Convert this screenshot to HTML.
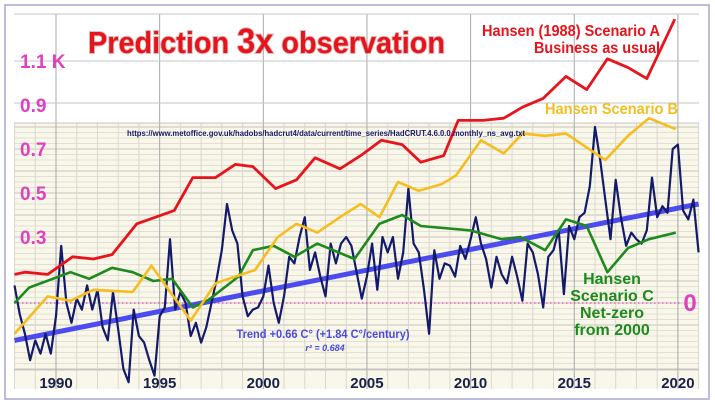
<!DOCTYPE html>
<html><head><meta charset="utf-8"><style>
html,body{margin:0;padding:0;background:#fff;}
svg{display:block;font-family:"Liberation Sans",sans-serif;}
</style></head><body>
<svg id="chart" width="715" height="404" viewBox="0 0 715 404">
<rect x="5" y="5" width="704" height="394" fill="#fff" stroke="#a9a6cf" stroke-width="1.5"/>
<rect x="14" y="123" width="685" height="266" fill="#f9f7ea"/>
<g id="grid"></g>
<g id="series"></g>
<g id="texts">
<text x="88" y="53" font-size="31" font-weight="bold" fill="#e8141c" textLength="357" lengthAdjust="spacingAndGlyphs" style="paint-order:stroke;stroke:rgba(120,0,0,0.25);stroke-width:2">Prediction <tspan font-size="35">3x</tspan> observation</text>
<text x="660" y="36" font-size="16" font-weight="bold" fill="#e8141c" text-anchor="end" textLength="178" lengthAdjust="spacingAndGlyphs">Hansen (1988) Scenario A</text>
<text x="660" y="53" font-size="16" font-weight="bold" fill="#e8141c" text-anchor="end" textLength="126" lengthAdjust="spacingAndGlyphs">Business as usual</text>
<text x="678" y="114" font-size="16" font-weight="bold" fill="#f2be22" text-anchor="end" textLength="133" lengthAdjust="spacingAndGlyphs">Hansen Scenario B</text>
<g font-size="16" font-weight="bold" fill="#1e8a1e" text-anchor="middle">
<text x="612" y="284">Hansen</text><text x="612" y="301">Scenario C</text><text x="612" y="318">Net-zero</text><text x="612" y="335">from 2000</text></g>
<text x="326" y="136" font-size="8.5" font-weight="bold" fill="#1a1a6a" text-anchor="middle" textLength="398" lengthAdjust="spacingAndGlyphs">https://www.metoffice.gov.uk/hadobs/hadcrut4/data/current/time_series/HadCRUT.4.6.0.0.monthly_ns_avg.txt</text>
<text x="323" y="338" font-size="12" font-weight="bold" fill="#4a4ae0" text-anchor="middle" textLength="173" lengthAdjust="spacingAndGlyphs">Trend +0.66 C° (+1.84 C°/century)</text>
<text x="325" y="351" font-size="9" font-weight="bold" font-style="italic" fill="#4a4ae0" text-anchor="middle">r² = 0.684</text>
<text x="690" y="311" font-size="24" font-weight="bold" fill="#e040c0" text-anchor="middle">0</text>
</g>
<g id="axes"></g>
</svg>
<script>
const obsStart = 1988.0;
const obsStep = 0.25;
const observed = [0.08,-0.05,-0.14,-0.26,-0.17,-0.23,-0.14,-0.23,-0.06,0.26,0.0,-0.09,0.02,-0.03,0.08,-0.03,0.06,-0.11,-0.17,0.05,-0.12,-0.30,-0.36,-0.03,-0.15,-0.18,-0.26,-0.33,-0.06,-0.02,0.29,-0.03,0.05,0.0,-0.15,-0.09,-0.18,-0.11,0.0,0.11,0.24,0.45,0.33,0.27,0.03,-0.06,-0.03,-0.02,0.03,0.17,0.0,-0.09,0.03,0.21,0.18,0.30,0.39,0.15,0.23,0.12,0.03,0.27,0.18,0.27,0.30,0.26,0.14,0.02,0.12,0.27,0.06,0.30,0.23,0.30,0.11,0.23,0.52,0.27,0.23,0.06,-0.14,0.24,0.11,0.18,0.17,0.12,0.26,0.20,0.29,0.39,0.27,0.20,0.07,0.21,0.13,0.09,0.21,0.12,0.01,0.27,0.23,0.13,-0.02,0.21,0.24,0.33,0.04,0.35,0.29,0.39,0.41,0.53,0.80,0.65,0.47,0.29,0.56,0.39,0.26,0.32,0.29,0.27,0.33,0.57,0.39,0.44,0.41,0.70,0.72,0.42,0.38,0.47,0.23];
const aYears = [1988.0,1988.5,1989.6,1990.8,1991.8,1992.7,1993.9,1995.7,1996.6,1997.7,1998.65,1999.5,2000.6,2001.6,2002.5,2003.7,2004.7,2005.7,2006.7,2007.6,2008.7,2009.4,2010.6,2011.6,2012.5,2013.5,2014.6,2015.6,2016.6,2017.6,2018.5,2019.85];
const aValues = [0.13,0.14,0.13,0.21,0.20,0.22,0.36,0.42,0.57,0.57,0.63,0.62,0.52,0.56,0.66,0.61,0.67,0.74,0.72,0.64,0.67,0.83,0.83,0.84,0.89,0.93,1.03,0.97,1.11,1.07,1.02,1.29];
const bYears = [1988.0,1989.6,1990.7,1991.8,1993.7,1994.6,1996.5,1997.7,1999.6,2000.7,2001.6,2002.6,2003.7,2004.7,2005.6,2006.5,2007.5,2008.6,2009.3,2010.5,2011.6,2012.5,2013.6,2014.6,2016.5,2017.6,2018.6,2019.9];
const bValues = [-0.14,0.03,0.01,0.06,0.05,0.17,-0.08,0.09,0.15,0.30,0.36,0.32,0.39,0.45,0.39,0.55,0.51,0.54,0.58,0.74,0.68,0.77,0.76,0.77,0.65,0.76,0.84,0.79];
const cYears = [1988.0,1988.7,1990.7,1991.6,1992.7,1993.7,1994.7,1995.6,1996.6,1997.3,1998.8,1999.5,2000.5,2001.5,2002.6,2004.4,2005.6,2006.7,2007.6,2010.0,2011.5,2012.4,2013.6,2014.6,2015.6,2016.6,2017.6,2018.6,2019.9];
const cValues = [0.0,0.07,0.14,0.11,0.16,0.14,0.10,0.11,-0.02,0.01,0.12,0.24,0.26,0.21,0.27,0.20,0.36,0.40,0.35,0.33,0.29,0.30,0.24,0.38,0.35,0.14,0.25,0.29,0.32];
const trendYears = [1988.0, 2021.0];
const trendValues = [-0.17, 0.45];
const xTickLabels = ["1990","1995","2000","2005","2010","2015","2020"];
const yTickLabels = ["0.3","0.5","0.7","0.9","1.1 K"];
const yTickValues = [0.3,0.5,0.7,0.9,1.1];

const NS="http://www.w3.org/2000/svg";
function x(yr){return 56+(yr-1990)*20.73;}
function y(v){return 303-v*220;}
function mk(tag,attrs,parent){const e=document.createElementNS(NS,tag);for(const k in attrs)e.setAttribute(k,attrs[k]);parent.appendChild(e);return e;}
const grid=document.getElementById('grid'),series=document.getElementById('series'),axes=document.getElementById('axes');

// minor horizontal lines in grid area
for(let v=-0.3;v<=0.82;v+=0.025){const yy=y(v);if(yy<124||yy>370)continue;
 const l=mk('line',{x1:14,x2:699,y1:yy,y2:yy,stroke:Math.abs((v*10)%1)<0.01?'#c8c6bc':'#e2e0d4','stroke-width':1},grid);
 
 }
for(let yr=1988;yr<=2021;yr++){
 const major=(yr%5===0);
 const l=mk('line',{x1:x(yr),x2:x(yr),y1:major?14:123,y2:389,stroke:major?'#a8a8a8':'#dad8cc','stroke-width':1},grid);
 
 }
[14,61,103,123,370].forEach(function(yy){
 const l=mk('line',{x1:14,x2:699,y1:yy,y2:yy,stroke:'#c4c4c4','stroke-width':1},grid);
 
 });

// zero line
const z=mk('line',{x1:14,x2:680,y1:y(0),y2:y(0),stroke:'#e040c0','stroke-width':1.2,'stroke-dasharray':'1.5,2.5'},series);



function path(xs,vs,color,w,name){
 let d='';for(let i=0;i<xs.length;i++)d+=(i?'L':'M')+x(xs[i]).toFixed(1)+','+y(vs[i]).toFixed(1);
 const p=mk('path',{d:d,fill:'none',stroke:color,'stroke-width':w,'stroke-linejoin':'round'},series);
 
 }
const obsYears=observed.map(function(_,i){return obsStart+i*obsStep;});
path(trendYears,trendValues,'#4b4bf0',5,'trend-line');
path(obsYears,observed,'#141a6a',2.2,'observed-temperature-line');
path(cYears,cValues,'#1e8a1e',2.6,'scenario-c-line');
path(bYears,bValues,'#f5bd1f',2.6,'scenario-b-line');
path(aYears,aValues,'#e8141c',2.8,'scenario-a-line');

xTickLabels.forEach(function(t){
 const tx=mk('text',{x:x(+t),y:388,'font-size':15,'font-weight':'bold',fill:'#1a1f4a','text-anchor':'middle'},axes);
 tx.textContent=t;
 
 });
yTickLabels.forEach(function(t,i){
 const tx=mk('text',{x:20,y:y(yTickValues[i])+7,'font-size':19,'font-weight':'bold',fill:'#e040c0'},axes);
 tx.textContent=t;
 
 });
</script>
</body></html>
